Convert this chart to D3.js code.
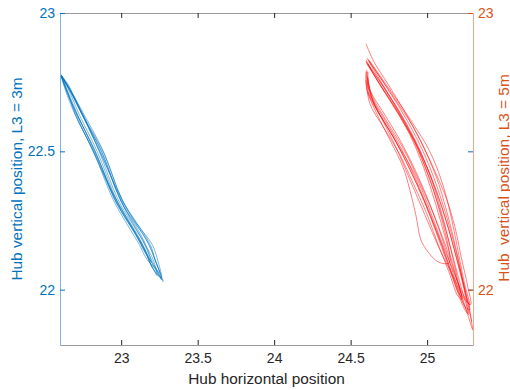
<!DOCTYPE html>
<html>
<head>
<meta charset="utf-8">
<script src="https://cdn.jsdelivr.net/npm/d3@7"></script>
<style>
	body { margin: 0; background: #fff; }
</style>
</head>
<body>
<svg id="hub-plot" width="510" height="390" viewBox="0 0 510 390"></svg>
<script>

const x_limits = [22.6, 25.3];
const y_limits = [21.8, 23];
const x_ticks = [23, 23.5, 24, 24.5, 25];
const y_ticks_left = [22, 22.5, 23];
const y_ticks_right = [22, 23];

const x_label = "Hub horizontal position";
const y_label_left = "Hub vertical position, L3 = 3m";
const y_label_right = "Hub  vertical position, L3 = 5m";

// hub trajectory, L3 = 3m (one array per cycle, [horizontal, vertical])
const hub_3m = [
	[[22.605,22.777],[22.667,22.723],[22.758,22.632],[22.882,22.502],[23.007,22.325],[23.190,22.163],[23.222,22.108],[23.275,22.029],
	 [23.229,22.072],[23.170,22.108],[23.118,22.163],[22.948,22.325],[22.817,22.502],[22.699,22.632],[22.634,22.723],[22.605,22.777]],
	[[22.608,22.774],[22.660,22.723],[22.745,22.632],[22.869,22.502],[22.993,22.325],[23.157,22.163],[23.209,22.108],[23.235,22.051],
	 [23.196,22.090],[23.137,22.163],[22.961,22.325],[22.830,22.502],[22.712,22.632],[22.641,22.723],[22.608,22.774]],
	[[22.605,22.777],[22.654,22.741],[22.686,22.705],[22.771,22.607],[22.895,22.459],[23.020,22.299],[23.170,22.176],[23.216,22.118],[23.262,22.040],
	 [23.203,22.080],[23.150,22.150],[22.980,22.310],[22.850,22.470],[22.758,22.580],[22.680,22.670],[22.627,22.741],[22.605,22.777]],
	[[22.610,22.770],[22.673,22.712],[22.765,22.610],[22.876,22.480],[23.000,22.330],[23.100,22.240],[23.203,22.163],[23.242,22.100],[23.262,22.045],
	 [23.209,22.075],[23.157,22.137],[23.078,22.220],[22.954,22.340],[22.824,22.490],[22.732,22.600],[22.647,22.712],[22.610,22.770]],
	[[22.605,22.777],[22.660,22.728],[22.752,22.625],[22.876,22.495],[23.000,22.320],[23.150,22.175],[23.196,22.101],
	 [23.150,22.140],[23.105,22.190],[22.954,22.330],[22.824,22.495],[22.706,22.625],[22.641,22.728],[22.605,22.777]],
	[[22.606,22.776],[22.670,22.718],[22.762,22.620],[22.889,22.490],[23.013,22.315],[23.176,22.168],[23.229,22.095],[23.255,22.058],
	 [23.216,22.085],[23.163,22.130],[23.092,22.200],[22.967,22.315],[22.837,22.490],[22.725,22.620],[22.650,22.718],[22.606,22.776]],
	[[22.605,22.777],[22.663,22.725],[22.750,22.628],[22.856,22.500],[22.980,22.325],[23.137,22.180],[23.196,22.110],[23.268,22.035],
	 [23.216,22.080],[23.170,22.130],[23.105,22.200],[22.974,22.320],[22.843,22.500],[22.730,22.628],[22.654,22.725],[22.605,22.777]]
];

// hub trajectory, L3 = 5m
const hub_5m = [
	[[24.613,22.831],[24.770,22.705],[24.920,22.578],[25.037,22.445],[25.129,22.325],[25.181,22.228],[25.227,22.108],[25.266,22.011],[25.285,21.946],
	 [25.246,21.964],[25.181,22.036],[25.083,22.145],[24.985,22.271],[24.887,22.398],[24.789,22.524],[24.691,22.632],[24.619,22.723],[24.606,22.795]],
	[[24.600,22.824],[24.717,22.730],[24.835,22.622],[24.939,22.506],[25.031,22.379],[25.096,22.253],[25.142,22.145],[25.148,22.101],
	 [25.129,22.094],[25.070,22.101],[25.005,22.137],[24.959,22.181],[24.926,22.271],[24.887,22.361],[24.841,22.445],[24.756,22.542],[24.665,22.643],[24.606,22.723],[24.600,22.788]],
	[[24.606,22.817],[24.704,22.730],[24.822,22.625],[24.939,22.513],[25.037,22.390],[25.122,22.253],[25.187,22.126],[25.246,22.000],[25.298,21.855],
	 [25.272,21.899],[25.214,22.000],[25.142,22.126],[25.057,22.253],[24.959,22.379],[24.848,22.506],[24.730,22.614],[24.639,22.701],[24.606,22.773]],
	[[24.619,22.824],[24.730,22.723],[24.854,22.607],[24.965,22.488],[25.063,22.354],[25.142,22.217],[25.207,22.080],[25.253,21.971],[25.266,21.917],
	 [25.240,21.946],[25.187,22.029],[25.122,22.145],[25.037,22.282],[24.939,22.412],[24.828,22.535],[24.711,22.643],[24.626,22.723],[24.613,22.788]],
	[[24.600,22.831],[24.678,22.752],[24.789,22.658],[24.887,22.560],[24.978,22.441],[25.057,22.307],[25.122,22.181],[25.181,22.065],[25.227,21.964],
	 [25.200,21.978],[25.142,22.065],[25.070,22.166],[24.992,22.282],[24.913,22.379],[24.822,22.488],[24.717,22.585],[24.626,22.672],[24.600,22.759]],
	[[24.600,22.889],[24.652,22.824],[24.743,22.744],[24.854,22.643],[24.959,22.535],[25.057,22.412],[25.129,22.282],[25.187,22.152],[25.233,22.036],[25.272,21.946],[25.292,21.884]],
	[[24.606,22.838],[24.737,22.730],[24.874,22.607],[24.992,22.477],[25.083,22.343],[25.155,22.210],[25.214,22.080],[25.253,21.982],[25.279,21.928],
	 [25.253,21.935],[25.200,22.000],[25.135,22.101],[25.057,22.217],[24.972,22.332],[24.874,22.452],[24.763,22.567],[24.658,22.665],[24.606,22.752]],
	[[24.613,22.817],[24.711,22.737],[24.828,22.636],[24.933,22.528],[25.024,22.405],[25.096,22.275],[25.155,22.145],[25.200,22.036],[25.227,21.971],
	 [25.207,21.986],[25.161,22.058],[25.103,22.152],[25.024,22.267],[24.933,22.390],[24.835,22.506],[24.730,22.607],[24.639,22.694],[24.613,22.766]],
	[[24.619,22.831],[24.756,22.723],[24.900,22.607],[25.018,22.499],[25.103,22.379],[25.161,22.253],[25.207,22.126],[25.246,22.018],[25.279,21.946],
	 [25.240,21.978],[25.168,22.072],[25.089,22.181],[25.005,22.307],[24.920,22.416],[24.809,22.524],[24.704,22.622],[24.619,22.705],[24.606,22.788]],
	[[24.600,22.824],[24.691,22.744],[24.809,22.643],[24.920,22.535],[25.005,22.416],[25.083,22.289],[25.148,22.163],[25.200,22.054],[25.246,21.964],[25.272,21.910],
	 [25.246,21.928],[25.194,22.000],[25.129,22.101],[25.057,22.210],[24.978,22.325],[24.887,22.434],[24.789,22.542],[24.678,22.643],[24.613,22.716]]
];


class HubPlot {

	styleAxis(g, color, domain_color) {
		g.attr('font-family', '"Liberation Sans", Arial, sans-serif')
			.attr('font-size', 14)
			.attr('color', color);
		g.select('.domain').attr('stroke', domain_color);
		g.selectAll('.tick text').attr('fill', color);
		return g;
	}

	constructor(svg_element_id) {
		this.svg = d3.select('#' + svg_element_id);

		const svg_viewbox = this.svg.node().viewBox.animVal;
		this.svg_width = svg_viewbox.width;
		this.svg_height = svg_viewbox.height;

		const plot_left = 60, plot_right = 473, plot_top = 13, plot_bottom = 345;
		const blue = '#0072BD', orange = '#D95319', grey = '#262626';

		const x = d3.scaleLinear().domain(x_limits).range([plot_left, plot_right]);
		const y = d3.scaleLinear().domain(y_limits).range([plot_bottom, plot_top]);

		const line = d3.line()
			.x(d => x(d[0]))
			.y(d => y(d[1]))
			.curve(d3.curveCatmullRom.alpha(0.5));

		// trajectories
		this.svg.append('g')
			.selectAll('path')
			.data(hub_3m)
			.enter()
			.append('path')
				.attr('d', line)
				.attr('fill', 'none')
				.attr('stroke', blue)
				.attr('stroke-width', 0.5);

		this.svg.append('g')
			.selectAll('path')
			.data(hub_5m)
			.enter()
			.append('path')
				.attr('d', line)
				.attr('fill', 'none')
				.attr('stroke', '#FF0000')
				.attr('stroke-width', 0.5);

		const fmt = d3.format('~g');

		// x axes (bottom with labels, top only ticks), ticks point inward
		this.styleAxis(this.svg.append('g')
			.attr('transform', 'translate(0,' + plot_bottom + ')')
			.call(d3.axisBottom(x).tickValues(x_ticks).tickFormat(fmt)
				.tickSizeInner(-5).tickSizeOuter(0).tickPadding(8)), grey, '#9a9a9a');

		this.styleAxis(this.svg.append('g')
			.attr('transform', 'translate(0,' + plot_top + ')')
			.call(d3.axisTop(x).tickValues(x_ticks).tickFormat('')
				.tickSizeInner(-5).tickSizeOuter(0)), grey, '#9a9a9a');

		// left ticks mirrored on the right side
		this.styleAxis(this.svg.append('g')
			.attr('transform', 'translate(' + plot_right + ',0)')
			.call(d3.axisRight(y).tickValues(y_ticks_left).tickFormat('')
				.tickSizeInner(-5).tickSizeOuter(0)), blue, 'none');

		// left y axis
		this.styleAxis(this.svg.append('g')
			.attr('transform', 'translate(' + plot_left + ',0)')
			.call(d3.axisLeft(y).tickValues(y_ticks_left).tickFormat(fmt)
				.tickSizeInner(-5).tickSizeOuter(0).tickPadding(5)), blue, '#7fb4de');

		// right y axis
		this.styleAxis(this.svg.append('g')
			.attr('transform', 'translate(' + plot_right + ',0)')
			.call(d3.axisRight(y).tickValues(y_ticks_right).tickFormat(fmt)
				.tickSizeInner(-5).tickSizeOuter(0).tickPadding(5)), orange, '#eca98c');

		// axis labels
		const label_font = '"Liberation Sans", Arial, sans-serif';
		const mid_y = (plot_top + plot_bottom) / 2;

		this.svg.append('text')
			.attr('x', (plot_left + plot_right) / 2)
			.attr('y', 384)
			.attr('text-anchor', 'middle')
			.attr('font-family', label_font)
			.attr('font-size', 15.4)
			.attr('fill', grey)
			.text(x_label);

		this.svg.append('text')
			.attr('transform', 'translate(17,' + mid_y + ') rotate(-90)')
			.attr('dy', '0.35em')
			.attr('text-anchor', 'middle')
			.attr('font-family', label_font)
			.attr('font-size', 15.4)
			.attr('fill', blue)
			.text(y_label_left);

		// the right label sits partly outside the figure, as in the original
		this.svg.append('text')
			.attr('transform', 'translate(504,' + (mid_y - 1) + ') rotate(-90)')
			.attr('dy', '0.35em')
			.attr('text-anchor', 'middle')
			.attr('font-family', label_font)
			.attr('font-size', 15.4)
			.attr('fill', orange)
			.style('white-space', 'pre')
			.text(y_label_right);
	}
}

function whenDocumentLoaded(action) {
	if (document.readyState === "loading") {
		document.addEventListener("DOMContentLoaded", action);
	} else {
		action();
	}
}

whenDocumentLoaded(() => {
	plot_object = new HubPlot('hub-plot');
});
</script>
</body>
</html>
